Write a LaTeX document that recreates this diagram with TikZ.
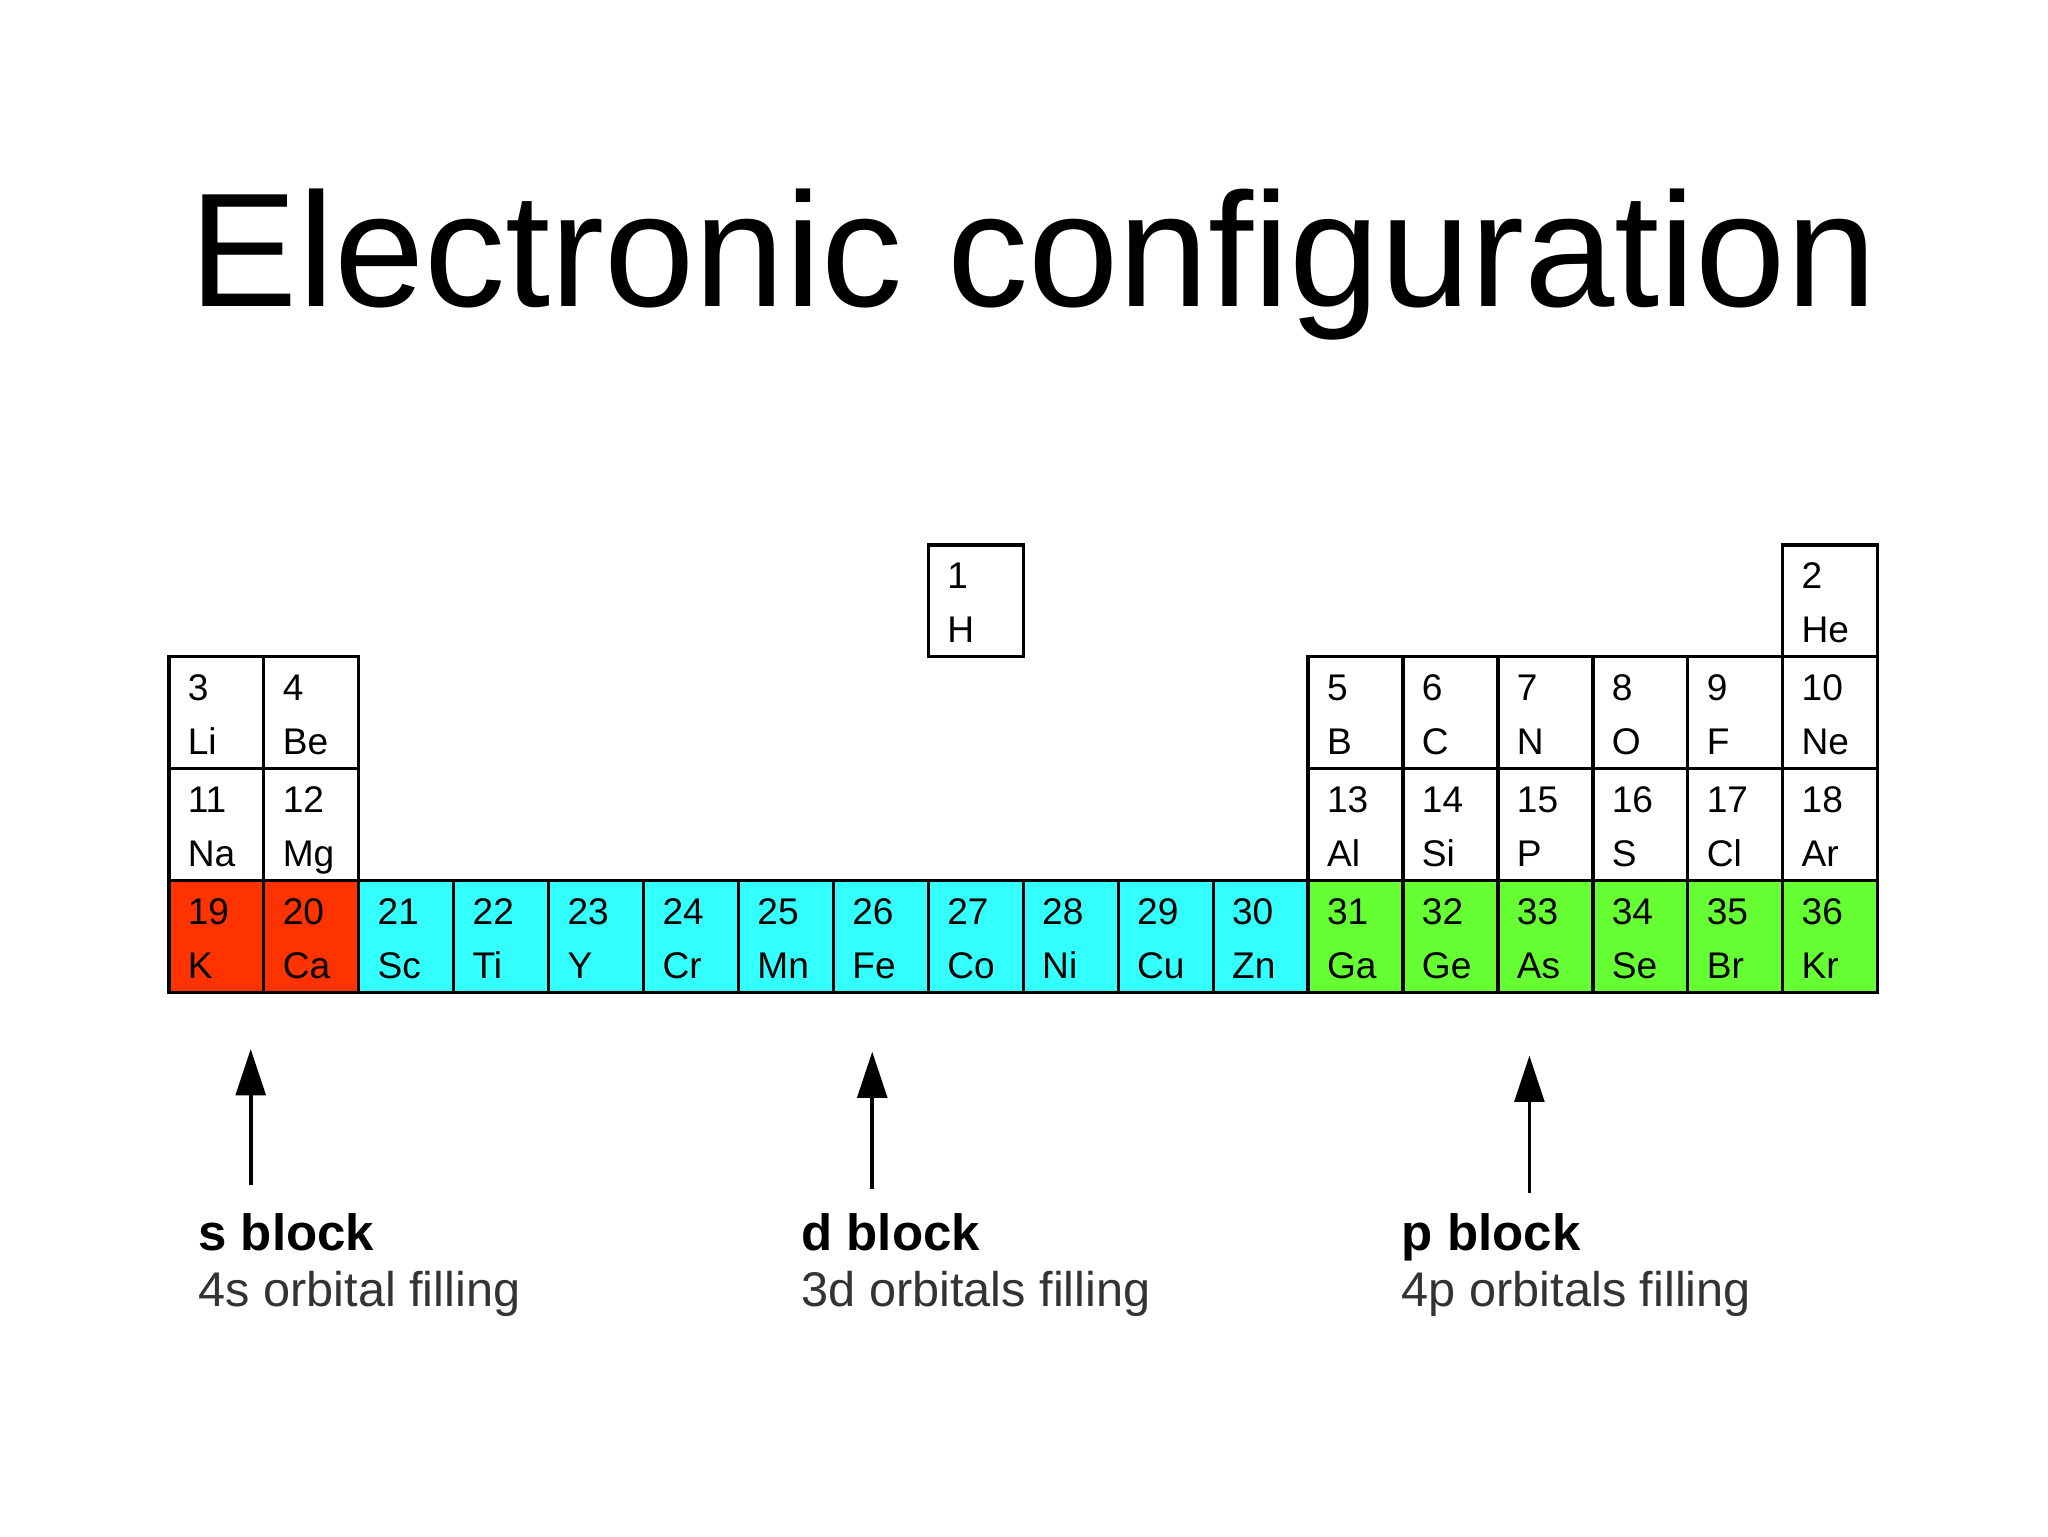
\documentclass[tikz,border=0pt]{standalone}
\usepackage{fontspec}
\setmainfont{Liberation Sans}
\usetikzlibrary{arrows.meta}
\definecolor{sred}{HTML}{FF3300}
\definecolor{dcyan}{HTML}{33FFFF}
\definecolor{pgreen}{HTML}{66FF33}
\begin{document}
\begin{tikzpicture}[x=0.02cm,y=-0.02cm,
  cell/.style={draw=black,line width=1.4pt},
  ctext/.style={font=\fontsize{16}{16}\selectfont,anchor=base west,inner sep=0pt},
  blk/.style={font=\fontsize{22}{22}\selectfont\bfseries,anchor=base west,inner sep=0pt},
  sub/.style={font=\fontsize{21}{21}\selectfont,anchor=base west,inner sep=0pt,text=black!80},
  arr/.style={line width=1.6pt,-{Triangle[length=0.7cm,width=0.45cm]}}]
\useasboundingbox (0,0) rectangle (1552,1164);
\fill[white] (0,0) rectangle (1552,1164);
\node[font=\fontsize{70}{70}\selectfont,anchor=base] (title) at (783,232) {Electronic configuration};
\newcommand{\cellat}[5]{% col, row, num, sym, color
  \draw[cell,fill=#5] ({128+(#1-1)*71.94},{413+(#2-1)*84.75}) rectangle ({128+#1*71.94},{413+#2*84.75});
  \node[ctext] (n#3) at ({128+(#1-1)*71.94+14},{413+(#2-1)*84.75+33}) {#3};
  \node[ctext] (e#3) at ({128+(#1-1)*71.94+14},{413+(#2-1)*84.75+74}) {#4};}
\cellat{9}{1}{1}{H}{white}
\cellat{18}{1}{2}{He}{white}
\cellat{1}{2}{3}{Li}{white}\cellat{2}{2}{4}{Be}{white}
\cellat{13}{2}{5}{B}{white}\cellat{14}{2}{6}{C}{white}\cellat{15}{2}{7}{N}{white}
\cellat{16}{2}{8}{O}{white}\cellat{17}{2}{9}{F}{white}\cellat{18}{2}{10}{Ne}{white}
\cellat{1}{3}{11}{Na}{white}\cellat{2}{3}{12}{Mg}{white}
\cellat{13}{3}{13}{Al}{white}\cellat{14}{3}{14}{Si}{white}\cellat{15}{3}{15}{P}{white}
\cellat{16}{3}{16}{S}{white}\cellat{17}{3}{17}{Cl}{white}\cellat{18}{3}{18}{Ar}{white}
\cellat{1}{4}{19}{K}{sred}\cellat{2}{4}{20}{Ca}{sred}
\cellat{3}{4}{21}{Sc}{dcyan}\cellat{4}{4}{22}{Ti}{dcyan}\cellat{5}{4}{23}{Y}{dcyan}
\cellat{6}{4}{24}{Cr}{dcyan}\cellat{7}{4}{25}{Mn}{dcyan}\cellat{8}{4}{26}{Fe}{dcyan}
\cellat{9}{4}{27}{Co}{dcyan}\cellat{10}{4}{28}{Ni}{dcyan}\cellat{11}{4}{29}{Cu}{dcyan}
\cellat{12}{4}{30}{Zn}{dcyan}
\cellat{13}{4}{31}{Ga}{pgreen}\cellat{14}{4}{32}{Ge}{pgreen}\cellat{15}{4}{33}{As}{pgreen}
\cellat{16}{4}{34}{Se}{pgreen}\cellat{17}{4}{35}{Br}{pgreen}\cellat{18}{4}{36}{Kr}{pgreen}
\coordinate (sa) at (190,898); \coordinate (sb) at (190,795);
\coordinate (da) at (661,901); \coordinate (db) at (661,797);
\coordinate (pa) at (1159,904); \coordinate (pb) at (1159,800);
\draw[arr] (sa) -- (sb);
\draw[arr] (da) -- (db);
\draw[arr] (pa) -- (pb);
\node[blk] (sl) at (150,948) {s block};
\node[sub] (ss) at (150,990) {4s orbital filling};
\node[blk] (dl) at (607,948) {d block};
\node[sub] (ds) at (607,990) {3d orbitals filling};
\node[blk] (pl) at (1062,948) {p block};
\node[sub] (ps) at (1062,990) {4p orbitals filling};
\end{tikzpicture}
\end{document}
